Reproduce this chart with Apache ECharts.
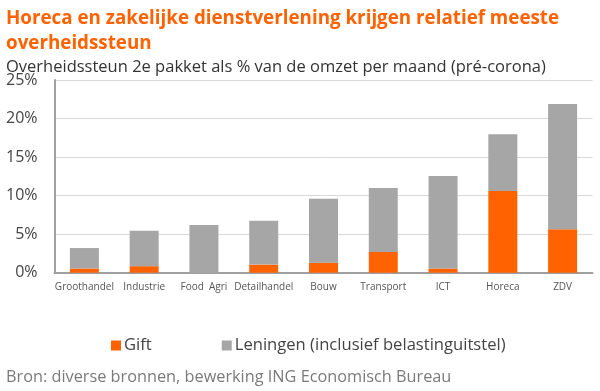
<!DOCTYPE html>
<html>
<head>
<meta charset="utf-8">
<script src="https://cdn.jsdelivr.net/npm/echarts@6/dist/echarts.min.js"></script>
<style>
html,body{margin:0;padding:0;background:#fff;}
#chart{width:600px;height:391px;}
</style>
</head>
<body>
<div id="chart"></div>
<script>
const categories = ['Groothandel','Industrie','Food  Agri','Detailhandel','Bouw','Transport','ICT','Horeca','ZDV'];
const gift = [0.55, 0.85, 0, 1.05, 1.3, 2.7, 0.55, 10.6, 5.65];
const leningen = [2.65, 4.6, 6.2, 5.7, 8.3, 8.3, 12.0, 7.35, 16.25];
const yTicks = [0, 5, 10, 15, 20, 25];

const FONT = 'Open Sans';
const chart = echarts.init(document.getElementById('chart'));
chart.setOption({
  animation: false,
  title: [
    {
      text: 'Horeca en zakelijke dienstverlening krijgen relatief meeste\noverheidssteun',
      left: 1, top: 1,
      textStyle: {color: '#FF6200', fontFamily: FONT, fontWeight: 'bold', fontSize: 18.8, lineHeight: 25}
    },
    {
      text: 'Overheidssteun 2e pakket als % van de omzet per maand (pré-corona)',
      left: 1, top: 52,
      textStyle: {color: '#333', fontFamily: FONT, fontWeight: 'normal', fontSize: 16.5, lineHeight: 20}
    },
    {
      text: 'Bron: diverse bronnen, bewerking ING Economisch Bureau',
      left: 1, top: 362,
      textStyle: {color: '#7a7a7a', fontFamily: FONT, fontWeight: 'normal', fontSize: 16.3, lineHeight: 20}
    }
  ],
  legend: {
    left: 106, top: 332,
    itemWidth: 10, itemHeight: 10, itemGap: 70,
    icon: 'rect',
    textStyle: {color: '#444', fontFamily: FONT, fontSize: 16.6, padding: [0,0,0,-2]},
    data: ['Gift', 'Leningen (inclusief belastinguitstel)']
  },
  grid: {left: 54.5, right: 7.5, top: 80, bottom: 118.3, containLabel: false},
  xAxis: {
    type: 'category',
    data: categories,
    axisLine: {lineStyle: {color: '#A0A0A0', width: 2}},
    axisTick: {show: false},
    axisLabel: {color: '#555', fontFamily: FONT, fontSize: 10, margin: 9, interval: 0}
  },
  yAxis: {
    type: 'value',
    min: yTicks[0], max: yTicks[yTicks.length-1], interval: 5,
    axisLine: {show: true, lineStyle: {color: '#A0A0A0', width: 2}},
    axisTick: {show: false},
    axisLabel: {color: '#444', fontFamily: FONT, fontSize: 16, margin: 17, formatter: v => v + '%'},
    splitLine: {lineStyle: {color: '#D9D9D9', width: 1}}
  },
  series: [
    {name: 'Gift', type: 'bar', stack: 's', data: gift, barWidth: 29, itemStyle: {color: '#FF6200'}},
    {name: 'Leningen (inclusief belastinguitstel)', type: 'bar', stack: 's', data: leningen, barWidth: 29, itemStyle: {color: '#A6A6A6'}}
  ]
});
</script>
</body>
</html>
